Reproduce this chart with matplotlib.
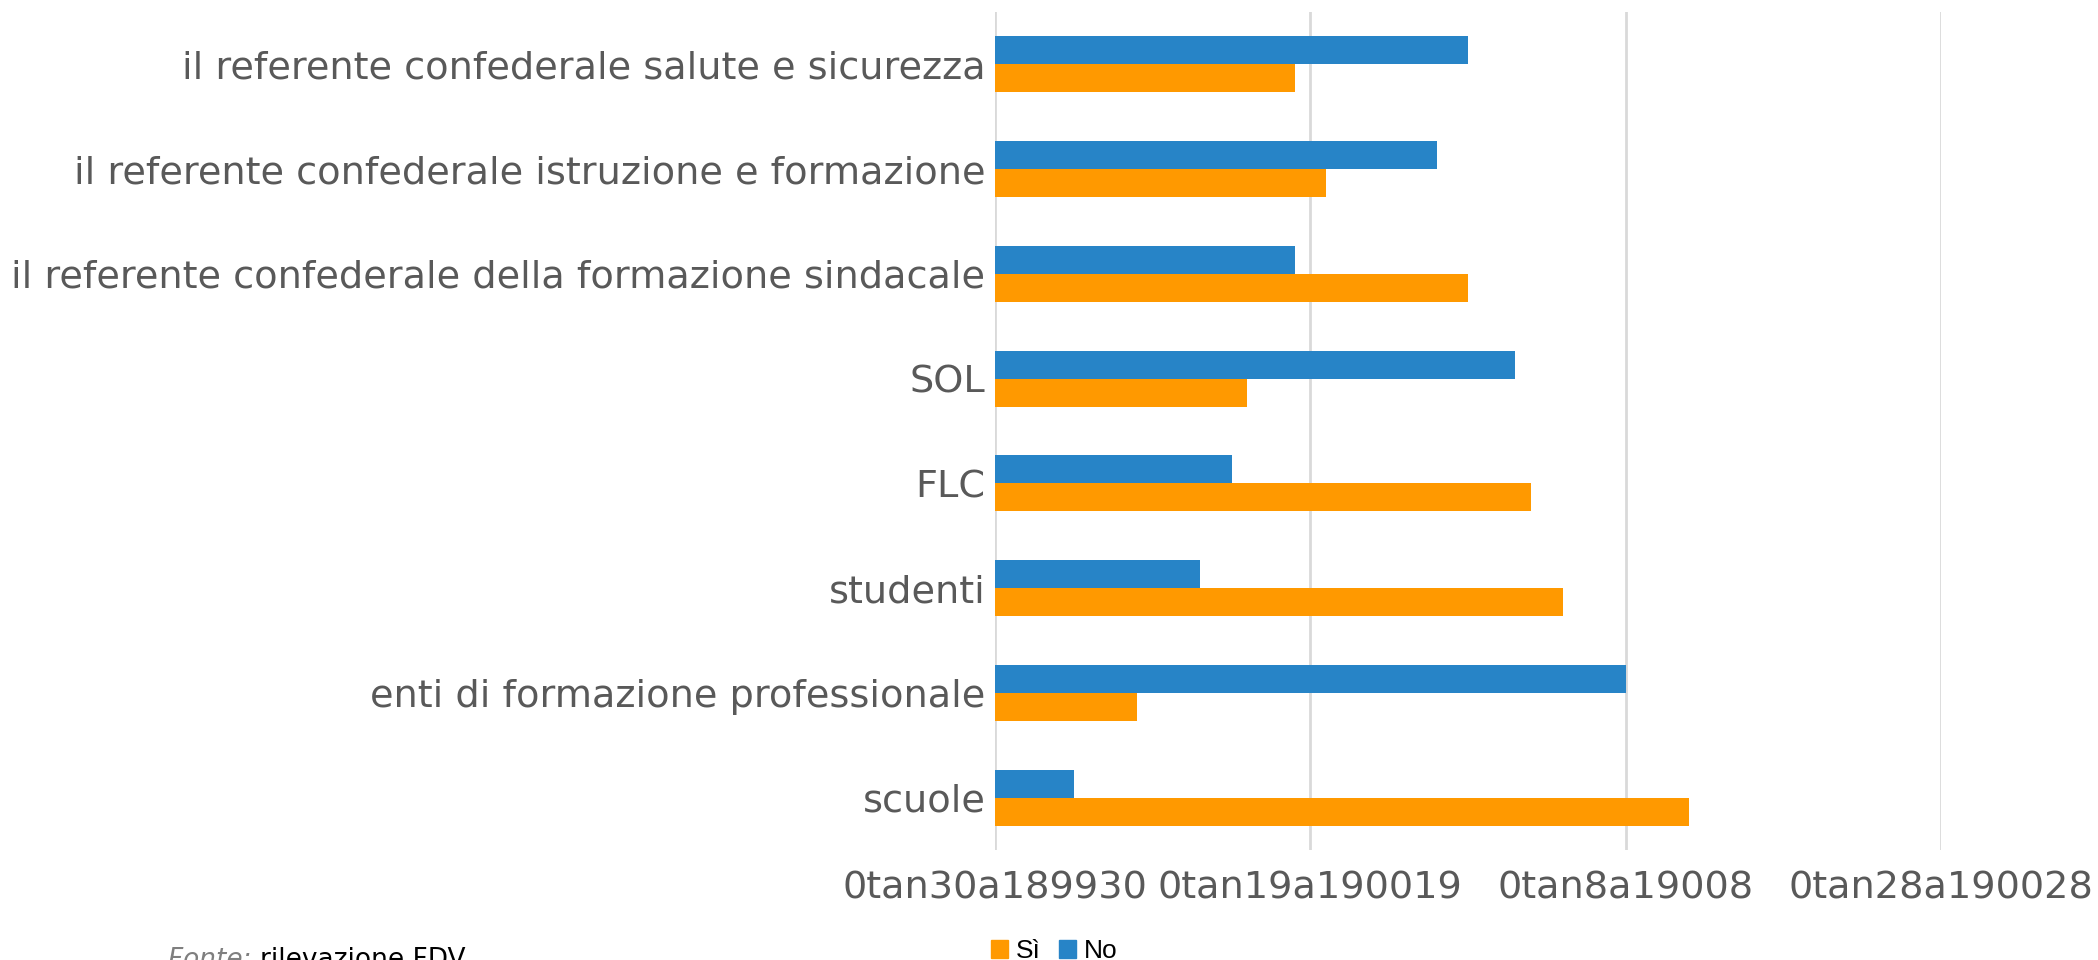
import matplotlib
matplotlib.use("Agg")
import matplotlib.pyplot as plt
from matplotlib.patches import Patch
import numpy as np

# categories from bottom to top
categories = [
    "scuole",
    "enti di formazione professionale",
    "studenti",
    "FLC",
    "SOL",
    "il referente confederale della formazione sindacale",
    "il referente confederale istruzione e formazione",
    "il referente confederale salute e sicurezza",
]
si_values = [2.20, 0.45, 1.80, 1.70, 0.80, 1.50, 1.05, 0.95]
no_values = [0.25, 2.00, 0.65, 0.75, 1.65, 0.95, 1.40, 1.50]
tick_labels = ["0tan30a189930", "0tan19a190019", "0tan8a19008", "0tan28a190028"]

ORANGE = "#FF9900"
BLUE = "#2784C7"
GRAY = "#595959"

fig = plt.figure(figsize=(20.98, 9.6), dpi=100)
ax = fig.add_axes([0.4743, 0.1146, 0.4509, 0.8729])

y = np.arange(len(categories))
h = 0.267
ax.barh(y - h / 2, si_values, height=h, color=ORANGE, label="Sì", zorder=3)
ax.barh(y + h / 2, no_values, height=h, color=BLUE, label="No", zorder=3)

ax.set_xlim(0, 3)
ax.set_ylim(-0.5, 7.5)
ax.set_xticks(range(4))
ax.set_xticklabels(tick_labels)
ax.set_yticks(y)
ax.set_yticklabels(categories)
ax.tick_params(axis="both", length=0, labelsize=27.5, labelcolor=GRAY)
ax.tick_params(axis="x", pad=15)
ax.tick_params(axis="y", pad=7)
ax.grid(axis="x", color="#D9D9D9", linewidth=2, zorder=0)
for s in ax.spines.values():
    s.set_visible(False)

handles = [Patch(color=ORANGE, label="Sì"), Patch(color=BLUE, label="No")]
fig.legend(handles=handles, loc="center", bbox_to_anchor=(0.5025, 0.009),
           ncol=2, frameon=False, handlelength=0.65, handleheight=0.65,
           handletextpad=0.3, columnspacing=0.7,
           prop={"family": "Liberation Sans", "size": 19})

# source note, partly cut at the bottom edge like the original
t1 = fig.text(0.08, 0.0, "Fonte: ", fontsize=19, style="italic",
              color="#7F7F7F", va="center", ha="left")
ax.annotate("rilevazione FDV", xy=(1, 0.5), xycoords=t1, va="center",
            ha="left", fontsize=19, color="black", annotation_clip=False)

fig.savefig("out.png", dpi=100)
